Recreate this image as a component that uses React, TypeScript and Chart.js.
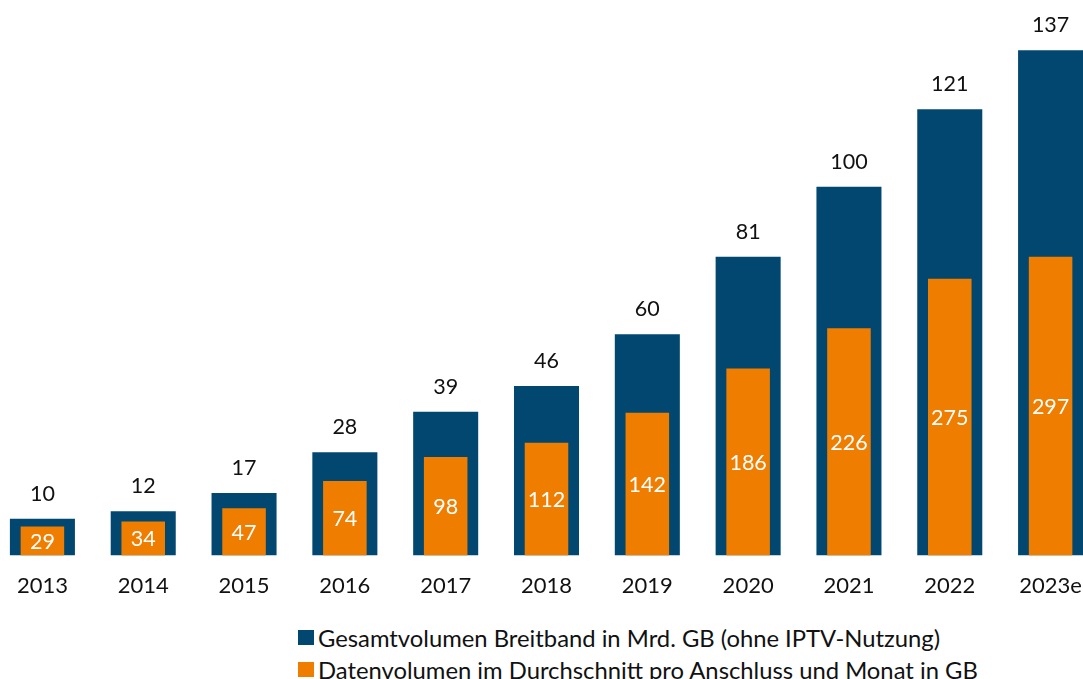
import React, { useEffect, useRef } from "react";
import { Chart, registerables } from "chart.js";

Chart.register(...registerables);

const categories = ["2013", "2014", "2015", "2016", "2017", "2018", "2019", "2020", "2021", "2022", "2023e"];
const totalVolume = [10, 12, 17, 28, 39, 46, 60, 81, 100, 121, 137];
const avgVolume = [29, 34, 47, 74, 98, 112, 142, 186, 226, 275, 297];
const legendLabels = [
  "Gesamtvolumen Breitband in Mrd. GB (ohne IPTV-Nutzung)",
  "Datenvolumen im Durchschnitt pro Anschluss und Monat in GB",
];

const BLUE = "#01476F";
const ORANGE = "#EF7D00";
const FONT = "Lato, 'Open Sans', sans-serif";

const valueLabels = {
  id: "valueLabels",
  afterDatasetsDraw(chart: any) {
    const ctx = chart.ctx;
    ctx.save();
    ctx.textAlign = "center";
    ctx.textBaseline = "middle";
    chart.data.datasets.forEach((ds: any, di: number) => {
      const meta = chart.getDatasetMeta(di);
      meta.data.forEach((el: any, i: number) => {
        const v = ds.data[i];
        if (ds.labelPos === "top") {
          ctx.fillStyle = "#111111";
          ctx.font = `21.5px ${FONT}`;
          ctx.fillText(String(v), el.x, el.y - 25);
        } else {
          ctx.fillStyle = "#ffffff";
          ctx.font = `21.5px ${FONT}`;
          ctx.fillText(String(v), el.x, (el.y + el.base) / 2 + 1);
        }
      });
    });
    ctx.restore();
  },
};

export default function App() {
  const ref = useRef<HTMLCanvasElement | null>(null);
  useEffect(() => {
    if (!ref.current) return;
    const chart = new Chart(ref.current, {
      type: "bar",
      data: {
        labels: categories,
        datasets: [
          {
            label: legendLabels[1],
            data: avgVolume,
            backgroundColor: ORANGE,
            yAxisID: "y2",
            barPercentage: 0.432,
            categoryPercentage: 1,
            grouped: false,
            order: 0,
            labelPos: "center",
          } as any,
          {
            label: legendLabels[0],
            data: totalVolume,
            backgroundColor: BLUE,
            yAxisID: "y",
            barPercentage: 0.645,
            categoryPercentage: 1,
            grouped: false,
            order: 1,
            labelPos: "top",
          } as any,
        ],
      },
      options: {
        responsive: false,
        animation: false,
        layout: { padding: 0 },
        plugins: { legend: { display: false }, tooltip: { enabled: false } },
        scales: {
          x: {
            offset: true,
            grid: { display: false, drawTicks: false },
            border: { display: false },
            ticks: { color: "#111111", font: { family: FONT, size: 22 }, padding: 17 },
          },
          y: { display: false, min: 0, max: 150.6 },
          y2: { display: false, min: 0, max: 552 },
        },
      },
      plugins: [valueLabels],
    });
    return () => chart.destroy();
  }, []);

  return (
    <div style={{ position: "absolute", left: 0, top: 0, width: 1083, height: 679, overflow: "hidden", background: "#fff" }}>
      <canvas ref={ref} width={1109} height={616} style={{ position: "absolute", left: -8, top: 0 }} />
      <div style={{ position: "absolute", left: 298, top: 622, fontFamily: FONT, fontSize: 23.8, color: "#111111" }}>
        {legendLabels.map((t, i) => (
          <div key={i} style={{ display: "flex", alignItems: "center", height: 31.7, whiteSpace: "nowrap" }}>
            <span style={{ display: "inline-block", width: 16, height: 15, background: i === 0 ? BLUE : ORANGE, marginRight: 4 }} />
            <span>{t}</span>
          </div>
        ))}
      </div>
    </div>
  );
}
